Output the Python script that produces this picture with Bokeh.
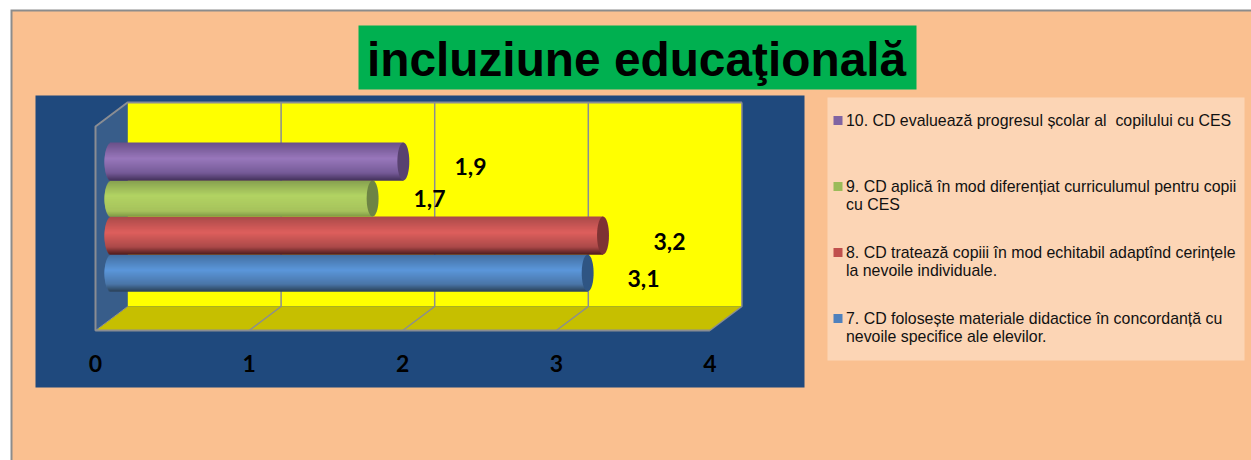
import math
from bokeh.plotting import figure
from bokeh.models import Range1d, BoxAnnotation, FixedTicker, LinearAxis
from bokeh.core.properties import value
from bokeh.embed import file_html
from bokeh.resources import INLINE

# ---------- data ----------
title_text = "incluziune educaţională"
series_values = [3.1, 3.2, 1.7, 1.9]            # bottom to top
value_labels = ["3,1", "3,2", "1,7", "1,9"]
x_ticks = [0, 1, 2, 3, 4]
legend_lines = [
    ["7. CD folosește materiale didactice în concordanță cu", "nevoile specifice ale elevilor."],
    ["8. CD tratează copiii în mod echitabil adaptînd cerințele", "la nevoile individuale."],
    ["9. CD aplică în mod diferențiat curriculumul pentru copii", "cu CES"],
    ["10. CD evaluează progresul școlar al\u00a0 copilului cu CES"],
]

# ---------- style / layout ----------
PEACH, BORDER, NAVY, GRAY = "#fac090", "#8c8c8c", "#1f497d", "#8a8d93"
swatches = ["#4f81bd", "#c0504d", "#9bbb59", "#8064a2"]
caps = ["#2f5583", "#7e3334", "#6d8444", "#584270"]
grads = [
    [(0, "#426e9f"), (.42, "#5b96da"), (.8, "#4a76a8"), (1, "#2a4056")],
    [(0, "#a84a49"), (.42, "#de5f5d"), (.8, "#ab4a49"), (1, "#4e1c1c")],
    [(0, "#86a04f"), (.42, "#b2d363"), (.85, "#a6c25c"), (1, "#7f9a45")],
    [(0, "#6a5088"), (.42, "#9877bb"), (.8, "#755a97"), (1, "#43315a")],
]
W, H = 1251, 460
X0, UNIT = 95.0, 153.6       # screen x of value 0, px per unit
DX, DY = 32, 24              # 3-D depth of the box
WALL_T, FLOOR_Y = 102, 306   # back wall top / bottom
BAR_DX = 16                  # cylinders stand half way into the depth
BAR_TOPS = [254, 216, 180, 142]
BAR_BOTS = [291, 254, 216, 180]
CAP_A = 7
LABEL_POS = [(643, 278), (669, 241), (429, 198), (470, 166)]
LEG_Y = [318, 252, 186, 120]
TICK_LABEL_TOP = 348


def vx(px):
    return (px - X0) / UNIT


def py(y):
    return H - y


def hex2rgb(c):
    return [int(c[i:i + 2], 16) for i in (1, 3, 5)]


def grad(stops, t):
    for (t0, c0), (t1, c1) in zip(stops, stops[1:]):
        if t <= t1:
            f = (t - t0) / (t1 - t0)
            a, b = hex2rgb(c0), hex2rgb(c1)
            return "#%02x%02x%02x" % tuple(round(p + (q - p) * f) for p, q in zip(a, b))
    return stops[-1][1]


p = figure(width=W, height=H, output_backend="svg", toolbar_location=None,
           x_range=Range1d(vx(0), vx(W)), y_range=Range1d(0, H),
           min_border_left=0, min_border_right=0, min_border_top=0, min_border_bottom=0,
           x_axis_type=None, y_axis_type=None)
p.grid.visible = False
p.outline_line_color = None
p.background_fill_color = None
p.border_fill_color = "white"


def box(l, t, r, b, color, level="underlay"):
    p.add_layout(BoxAnnotation(left=vx(l), right=vx(r), top=py(t), bottom=py(b),
                               fill_color=color, fill_alpha=1, line_color=None, level=level))


box(10, 9, 1251, 460, BORDER)
box(12, 11, 1251, 460, PEACH)
box(358, 25, 916, 89, "#00b050")
box(35, 95, 804, 387, NAVY)
box(827, 97, 1244, 360, "#fcd5b5")

# 3-D box
left, right = vx(X0), vx(X0 + len(x_ticks[1:]) * UNIT)
d = DX / UNIT
p.quad(left=[left + d], right=[right + d], top=[py(WALL_T)], bottom=[py(FLOOR_Y)], fill_color="#ffff00", line_color=None)
p.patch([left, left + d, right + d, right], [py(FLOOR_Y + DY), py(FLOOR_Y), py(FLOOR_Y), py(FLOOR_Y + DY)],
        fill_color="#c6bf00", line_color=None)
p.patch([left, left + d, left + d, left], [py(WALL_T + DY), py(WALL_T), py(FLOOR_Y), py(FLOOR_Y + DY)],
        fill_color="#385d8a", line_color=None)
for t in x_ticks[1:]:
    p.line([t + d, t + d, t], [py(WALL_T), py(FLOOR_Y), py(FLOOR_Y + DY)], line_color=GRAY, line_width=1.5)
p.line([right + d, left + d, left, left, right],
       [py(WALL_T), py(WALL_T), py(WALL_T + DY), py(FLOOR_Y + DY), py(FLOOR_Y + DY)],
       line_color=GRAY, line_width=2)
p.line([left, left + d], [py(FLOOR_Y + DY), py(FLOOR_Y)], line_color=GRAY, line_width=1)

# cylinders
off = BAR_DX / UNIT
a = CAP_A / UNIT
for v, top, bot, stops, cap in zip(series_values, BAR_TOPS, BAR_BOTS, grads, caps):
    h = bot - top
    ys = [top + i for i in range(h)]
    ts = [(i + .5) / h for i in range(h)]
    lefts = [off - a * math.sqrt(max(0, 1 - (2 * t - 1) ** 2)) for t in ts]
    # each strip reaches under the next one so no seams show
    p.quad(left=lefts, right=[v + off] * h, top=[py(y) for y in ys],
           bottom=[py(min(y + 2, bot)) for y in ys],
           fill_color=[grad(stops, t) for t in ts], line_color=None)
    ang = [i * math.pi / 24 for i in range(48)]
    p.patch([v + off + a * .85 * math.cos(q) for q in ang],
            [py((top + bot) / 2 + h / 2 * math.sin(q)) for q in ang], fill_color=cap, line_color=None)

# value labels
p.text(x=[vx(q[0]) for q in LABEL_POS], y=[py(q[1]) for q in LABEL_POS], text=value_labels,
       text_font=value("Lato"), text_font_style="bold", text_font_size="23px",
       text_color="black", text_align="center", text_baseline="middle")

# axis: it sits on the frame's lower edge, its labels are lifted to the chart's floor
ax = LinearAxis(ticker=FixedTicker(ticks=x_ticks), axis_line_color=None,
                major_tick_line_color=None, minor_tick_line_color=None,
                major_label_text_font="Lato", major_label_text_font_style="bold",
                major_label_text_font_size="23px", major_label_text_color="black",
                major_label_standoff=TICK_LABEL_TOP - H)
p.add_layout(ax, "below")

# title
p.text(x=[vx(636)], y=[py(59)], text=[title_text], text_font=value("Liberation Sans"),
       text_font_style="bold", text_font_size="47.8px", text_color="black",
       text_align="center", text_baseline="middle")

# legend
for lines, y, sw in zip(legend_lines, LEG_Y, swatches):
    p.quad(left=[vx(833)], right=[vx(842)], top=[py(y - 4.5)], bottom=[py(y + 4.5)], fill_color=sw, line_color=None)
    p.text(x=[vx(845.5)] * len(lines), y=[py(y + i * 18) for i in range(len(lines))], text=lines,
           text_font=value("Liberation Sans"), text_font_size="15.9px", text_color="#111111",
           text_align="left", text_baseline="middle")

open("out.html", "w").write(file_html(p, INLINE))
